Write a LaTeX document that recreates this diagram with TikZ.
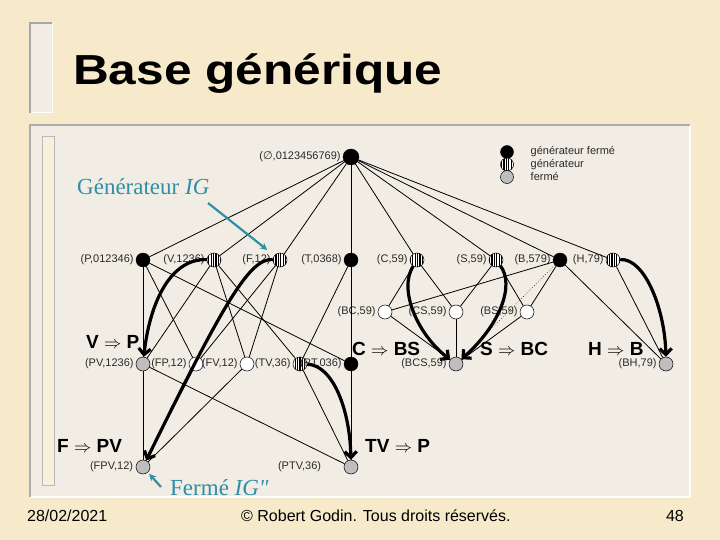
\documentclass[tikz,border=0pt]{standalone}
\usepackage{fontspec}
\usepackage{graphicx}
\setmainfont{Liberation Sans}
\newfontfamily\serifteal{Liberation Serif}
\newfontfamily\dvs{DejaVu Sans}
\usetikzlibrary{arrows.meta,patterns.meta}
\definecolor{parch}{HTML}{F6EACB}
\definecolor{panel}{HTML}{F1EDE4}
\definecolor{teal2}{HTML}{2E8FA6}
\definecolor{closedgray}{HTML}{BEBEBE}
\definecolor{lbl}{HTML}{2A2A2A}
\tikzset{
  gf/.style={circle, fill=black, draw=black, minimum size=14pt, inner sep=0pt},
  gn/.style={circle, draw=black, line width=0.5pt, preaction={fill=white},
    pattern={Lines[angle=90,distance=2.4pt,line width=1.1pt]}, pattern color=black,
    minimum size=14pt, inner sep=0pt},
  fe/.style={circle, draw=black, line width=0.5pt, fill=closedgray, minimum size=14pt, inner sep=0pt},
  nn/.style={circle, draw=black, line width=0.5pt, fill=white, minimum size=14pt, inner sep=0pt},
  lab/.style={font=\fontsize{11}{12}\selectfont, text=lbl, inner sep=0.5pt},
  edge/.style={line width=0.8pt},
  big/.style={line width=3.2pt, -{Straight Barb[length=6pt,width=12pt]}},
  rulet/.style={font=\fontsize{19}{20}\selectfont\bfseries, anchor=base west, inner sep=0pt, text depth=0pt},
  tealtxt/.style={font=\serifteal\fontsize{23}{24}\selectfont, text=teal2, anchor=base west, inner sep=0pt},
  tealarr/.style={draw=teal2, line width=2.2pt, -{Stealth[length=7pt,width=7pt]}},
  every label/.style={lab},
  label distance=1.5pt
}
\begin{document}
\begin{tikzpicture}[x=1pt,y=-1pt]
\useasboundingbox (0,0) rectangle (720,540);
\fill[parch] (0,0) rectangle (720,540);
% title bar
\fill[panel] (30,23) rectangle (52,113);
\draw[white, line width=1pt] (52,23) -- (52,113) -- (30,113);
\draw[gray!70, line width=1.5pt] (30,113) -- (30,23) -- (52,23);
% panel
\fill[panel] (30,125) rectangle (690,497);
\draw[white, line width=1.5pt] (690,125) -- (690,497) -- (30,497);
\draw[gray!65, line width=1.5pt] (30,497) -- (30,125) -- (690,125);
\fill[parch!70!white] (42,137) rectangle (54,485);
\draw[gray!55, line width=1pt] (42,137) rectangle (54,485);

% title
\node[anchor=base west, inner sep=0pt, font=\fontsize{42}{44}\selectfont\bfseries] (title) at (73,85) {\scalebox{1.18}[1]{Base générique}};

% footer
\node[anchor=base west, inner sep=0pt, font=\fontsize{16}{18}\selectfont] (date) at (27,521) {28/02/2021};
\node[anchor=base west, inner sep=0pt, font=\fontsize{16}{18}\selectfont] (copy) at (241,521) {© Robert Godin. Tous droits réservés.};
\node[anchor=base east, inner sep=0pt, font=\fontsize{16}{18}\selectfont] (page) at (684,521) {48};

% legend
\node[gf, minimum size=13pt] (lg1) at (507,152) {};
\node[gn, minimum size=13pt] (lg2) at (507,164.5) {};
\node[fe, minimum size=13pt] (lg3) at (507,177) {};
\node[lab, anchor=west] (lt1) at (530,152) {générateur fermé};
\node[lab, anchor=west] (lt2) at (530,164.5) {générateur};
\node[lab, anchor=west] (lt3) at (530,177) {fermé};

% nodes
\node[gf, minimum size=16pt, label=left:{({\dvs ∅},0123456769)}] (E) at (351,157) {};
\node[gf, label=left:{(P,012346)}] (P) at (143,260) {};
\node[gn, label=left:{(V,1236)}] (V) at (214,260) {};
\node[gn, label=left:{(F,12)}] (F) at (280,260) {};
\node[gf, label=left:{(T,0368)}] (T) at (351,260) {};
\node[gn, label=left:{(C,59)}] (C) at (417,260) {};
\node[gn, label=left:{(S,59)}] (S) at (496,260) {};
\node[gf, label=left:{(B,579)}] (B) at (560,260) {};
\node[gn, label=left:{(H,79)}] (H) at (613,260) {};
\node[nn, label=left:{(BC,59)}] (BC) at (385,312) {};
\node[nn, label=left:{(CS,59)}] (CS) at (456,312) {};
\node[nn, label=left:{(BS,59)}] (BS) at (527,312) {};
\node[fe, label=left:{(PV,1236)}] (PV) at (143,364) {};
\node[nn, label=left:{(FP,12)}] (FP) at (196,364) {};
\node[nn, label=left:{(FV,12)}] (FV) at (247,364) {};
\node[gn, label=left:{(TV,36)}] (TV) at (300,364) {};
\node[gf, label=left:{(PT,036)}] (PT) at (351,364) {};
\node[fe, label=left:{(BCS,59)}] (BCS) at (456,364) {};
\node[fe, label=left:{(BH,79)}] (BH) at (666,364) {};
\node[fe, label={[label distance=2pt]left:{(FPV,12)}}] (FPV) at (143,467) {};
\node[fe, label={[label distance=22pt]left:{(PTV,36)}}] (PTV) at (351,467) {};

% thin edges
\foreach \n in {P,V,F,T,C,S,B,H} \draw[edge] (E) -- (\n);
\draw[edge] (P) -- (PV); \draw[edge] (P) -- (FP); \draw[edge] (P) -- (PT);
\draw[edge] (V) -- (PV); \draw[edge] (V) -- (FV); \draw[edge] (V) -- (TV);
\draw[edge] (F) -- (FP); \draw[edge] (F) -- (FV);
\draw[edge] (T) -- (TV); \draw[edge] (T) -- (PT);
\draw[edge] (C) -- (BC); \draw[edge] (C) -- (CS);
\draw[edge] (S) -- (CS); \draw[edge] (S) -- (BS);
\draw[edge] (B) -- (BC); \draw[edge] (B) -- (BS); \draw[edge] (B) -- (BH);
\draw[line width=0.6pt, dotted] (B) -- (BCS);
\draw[edge] (H) -- (BH);
\draw[edge] (BC) -- (BCS); \draw[edge] (CS) -- (BCS); \draw[edge] (BS) -- (BCS);
\draw[edge] (PV) -- (FPV); \draw[edge] (PV) -- (PTV);
\draw[edge] (FP) -- (FPV); \draw[edge] (FV) -- (FPV);
\draw[edge] (TV) -- (PTV); \draw[edge] (PT) -- (PTV);

% thick arrows
\draw[big] (V) .. controls (172,258) and (150,300) .. (PV);
\draw[big] (F) .. controls (250,258) and (225,300) .. (FPV);
\draw[big] (C) .. controls (398,290) and (418,335) .. (BCS);
\draw[big] (S) .. controls (515,285) and (500,325) .. (BCS);
\draw[big] (H) .. controls (645,258) and (665,310) .. (BH);
\draw[big] (TV) .. controls (333,365) and (350,410) .. (PTV);

% rule labels
\node[rulet] (r1) at (86,348) {V $\Rightarrow$ P};
\node[rulet] (r2) at (352,355) {C $\Rightarrow$ BS};
\node[rulet] (r3) at (480,355) {S $\Rightarrow$ BC};
\node[rulet] (r4) at (588,355) {H $\Rightarrow$ B};
\node[rulet] (r5) at (57,452) {F $\Rightarrow$ PV};
\node[rulet] (r6) at (365,452) {TV $\Rightarrow$ P};

% teal annotations
\node[tealtxt] (gtxt) at (77,195) {Générateur \textit{IG}};
\coordinate (g1) at (208,203);
\draw[tealarr, shorten >=9pt] (g1) -- (F);
\node[tealtxt] (ftxt) at (170,495) {Fermé \textit{IG"}};
\coordinate (f1) at (161,487);
\draw[tealarr, shorten >=2pt] (f1) -- (FPV);
\end{tikzpicture}
\end{document}
